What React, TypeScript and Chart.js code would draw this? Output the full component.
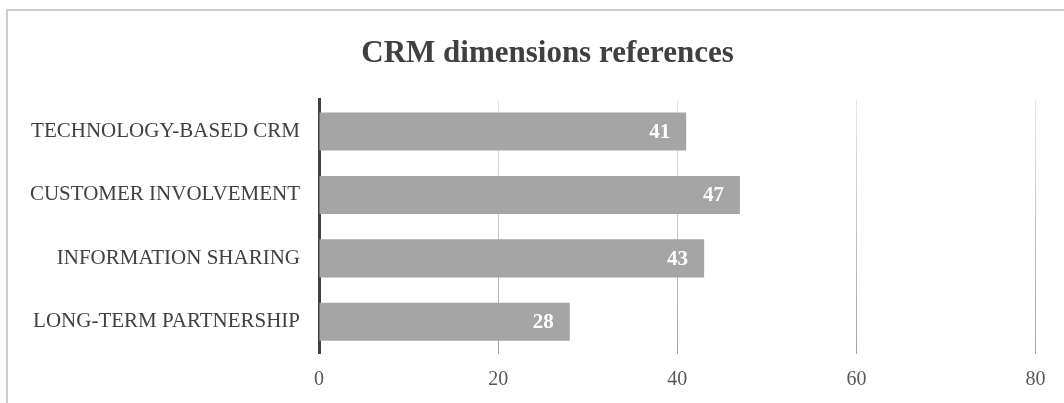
import React, { useEffect, useRef } from "react";
import { Chart, registerables } from "chart.js";

Chart.register(...registerables);

const chartTitle = "CRM dimensions references";
const categories = [
  "TECHNOLOGY-BASED CRM",
  "CUSTOMER INVOLVEMENT",
  "INFORMATION SHARING",
  "LONG-TERM PARTNERSHIP",
];
const references = [41, 47, 43, 28];
const xTicks = [0, 20, 40, 60, 80];

const SERIF = "'Liberation Serif', 'Times New Roman', serif";

const valueLabels = {
  id: "valueLabels",
  afterDatasetsDraw(chart: any) {
    const ctx = chart.ctx;
    const meta = chart.getDatasetMeta(0);
    ctx.save();
    ctx.fillStyle = "#ffffff";
    ctx.font = `bold 21px ${SERIF}`;
    ctx.textAlign = "right";
    ctx.textBaseline = "middle";
    meta.data.forEach((bar: any, i: number) => {
      ctx.fillText(String(references[i]), bar.x - 16, bar.y + 1);
    });
    ctx.restore();
  },
};

// Title centred on the (partly cropped) chart frame rather than the canvas
const frameTitle = {
  id: "frameTitle",
  afterDraw(chart: any) {
    const ctx = chart.ctx;
    ctx.save();
    ctx.fillStyle = "#404040";
    ctx.font = `bold 31px ${SERIF}`;
    ctx.textAlign = "center";
    ctx.textBaseline = "middle";
    ctx.fillText(chartTitle, 547.5, 54);
    ctx.restore();
  },
};

export default function App() {
  const ref = useRef<HTMLCanvasElement>(null);

  useEffect(() => {
    if (!ref.current) return;
    const chart = new Chart(ref.current, {
      type: "bar",
      data: {
        labels: categories,
        datasets: [
          {
            label: "References",
            data: references,
            backgroundColor: "#a5a5a5",
            borderWidth: 0,
            barPercentage: 1,
            categoryPercentage: 0.6,
          },
        ],
      },
      options: {
        indexAxis: "y",
        responsive: false,
        animation: false,
        devicePixelRatio: 1,
        layout: { padding: { left: 0, right: 28.5, top: 99.8, bottom: 0 } },
        plugins: {
          legend: { display: false },
          tooltip: { enabled: false },
          title: { display: false },
        },
        scales: {
          x: {
            type: "linear",
            min: 0,
            max: 80,
            afterBuildTicks: (scale: any) => {
              scale.ticks = xTicks.map((v) => ({ value: v }));
            },
            afterFit: (scale: any) => {
              scale.height = 49.5;
            },
            border: { display: false },
            grid: {
              drawTicks: false,
              lineWidth: 1,
              color: (c: any) => {
                const chart = c.chart;
                const ca = chart.chartArea;
                if (!ca) return "#d0d0d0";
                const g = chart.ctx.createLinearGradient(0, ca.top, 0, ca.bottom);
                g.addColorStop(0, "#e6e6e6");
                g.addColorStop(1, "#a3a3a3");
                return g;
              },
            },
            ticks: {
              padding: 14,
              color: "#595959",
              font: { family: SERIF, size: 20 },
            },
          },
          y: {
            afterFit: (scale: any) => {
              scale.width = 319;
            },
            border: { display: true, color: "#404040", width: 3 },
            grid: { display: false, drawTicks: false },
            ticks: {
              padding: 19,
              color: "#404040",
              font: { family: SERIF, size: 21 },
            },
          },
        },
      },
      plugins: [valueLabels, frameTitle],
    } as any);
    return () => chart.destroy();
  }, []);

  return (
    <div
      style={{
        position: "fixed",
        left: 0,
        top: 0,
        width: 1064,
        height: 403,
        overflow: "hidden",
        background: "#ffffff",
      }}
    >
      <div
        style={{
          position: "absolute",
          left: 6,
          top: 9,
          width: 1200,
          height: 600,
          borderLeft: "2px solid #cdcdcd",
          borderTop: "2px solid #cdcdcd",
        }}
      />
      <canvas
        ref={ref}
        width={1064}
        height={403}
        style={{ position: "absolute", left: 0, top: 0, display: "block" }}
      />
    </div>
  );
}
